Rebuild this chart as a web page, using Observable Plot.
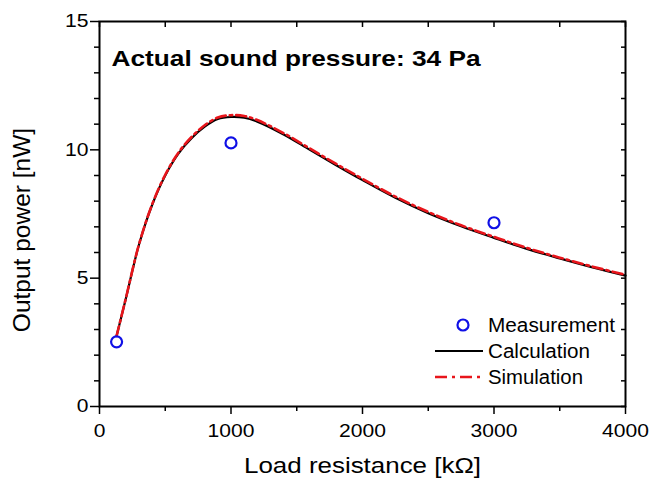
<!DOCTYPE html>
<html>
<head>
<meta charset="utf-8">
<script src="https://cdn.jsdelivr.net/npm/d3@7"></script>
<script src="https://cdn.jsdelivr.net/npm/@observablehq/plot@0.6"></script>
<style>
  html, body { margin: 0; padding: 0; background: #fff; }
  #wrap { position: relative; width: 652px; height: 484px; font-family: "Liberation Sans", Arial, sans-serif; }
  #legend { position: absolute; left: 0; top: 0; pointer-events: none; }
</style>
</head>
<body>
<div id="wrap"></div>
<script>
// Load resistance [kΩ]
const resistance = [130, 200, 300, 400, 500, 600, 700, 800, 900, 1000, 1100, 1200, 1400, 1600, 1800, 2000, 2250, 2500, 2750, 3000, 3250, 3500, 3750, 4000];
// Output power [nW] — calculation
const calcPower = [2.75, 4.2, 6.3, 7.85, 9.0, 9.85, 10.45, 10.9, 11.2, 11.28, 11.25, 11.1, 10.6, 10.0, 9.4, 8.82, 8.13, 7.53, 7.02, 6.57, 6.14, 5.77, 5.42, 5.1];
// Output power [nW] — simulation
const simPower = [2.75, 4.21, 6.31, 7.87, 9.03, 9.89, 10.5, 10.96, 11.26, 11.35, 11.32, 11.16, 10.65, 10.05, 9.45, 8.87, 8.18, 7.58, 7.06, 6.61, 6.18, 5.8, 5.45, 5.13];
// Measurements
const measResistance = [130, 1000, 3000];
const measPower = [2.52, 10.27, 7.16];

const xTicks = [0, 1000, 2000, 3000, 4000];
const xMinor = [500, 1500, 2500, 3500];
const yTicks = [0, 5, 10, 15];
const yMinor = [1, 2, 3, 4, 6, 7, 8, 9, 11, 12, 13, 14];
const allY = d3.range(0, 16);
const allX = d3.range(0, 4001, 500);

const titleText = "Actual sound pressure: 34 Pa";
const xLabel = "Load resistance [kΩ]";
const yLabel = "Output power [nW]";
const legendItems = ["Measurement", "Calculation", "Simulation"];

const calc = resistance.map((r, i) => ({r, p: calcPower[i]}));
const sim = resistance.map((r, i) => ({r, p: simPower[i]}));
const meas = measResistance.map((r, i) => ({r, p: measPower[i]}));

const RED = "#e8151b";
const BLUE = "#1010e6";
const FONT = "'Liberation Sans', Arial, sans-serif";

const chart = Plot.plot({
  width: 652,
  height: 484,
  marginLeft: 99,
  marginRight: 27,
  marginTop: 21,
  marginBottom: 78,
  style: {fontFamily: FONT, background: "#fff", color: "#000"},
  x: {domain: [0, 4000]},
  y: {domain: [0, 15]},
  marks: [
    // minor ticks
    Plot.axisY({ticks: yMinor, tickSize: 5, text: null, label: null, strokeWidth: 1.5}),
    Plot.axisX({ticks: xMinor, tickSize: 5, text: null, label: null, strokeWidth: 1.5}),
    // major ticks and labels
    Plot.axisY({ticks: yTicks, tickSize: 9, tickPadding: 2, fontSize: 18.5, strokeWidth: 1.5,
      tickFormat: "d", label: null}),
    Plot.axisX({ticks: xTicks, tickSize: 8, tickPadding: 9, fontSize: 18.5, strokeWidth: 1.5,
      tickFormat: "d", label: null}),
    // inward ticks on the top and right
    Plot.axisY({anchor: "right", ticks: allY, tickSize: 5, dx: -5, text: null, label: null, strokeWidth: 1.5}),
    Plot.axisX({anchor: "top", ticks: allX, tickSize: 5, dy: 5, text: null, label: null, strokeWidth: 1.5}),
    Plot.frame({stroke: "#000", strokeWidth: 2}),
    Plot.line(calc, {x: "r", y: "p", stroke: "#000", strokeWidth: 2.2, curve: "catmull-rom"}),
    Plot.line(sim, {x: "r", y: "p", stroke: RED, strokeWidth: 2.6, strokeDasharray: "10,4,2.5,4", curve: "catmull-rom"}),
    Plot.dot(meas, {x: "r", y: "p", r: 5.5, stroke: BLUE, strokeWidth: 2.2, fill: "none"}),
    // title
    Plot.text([titleText], {frameAnchor: "top-left", dx: 12, dy: 38, text: d => d, textAnchor: "start",
      lineAnchor: "middle", fontSize: 21.5, fontWeight: "bold", fill: "#000", className: "stretch-title"}),
    // axis labels
    Plot.text([xLabel], {frameAnchor: "bottom", dy: 60, text: d => d, lineAnchor: "middle",
      fontSize: 21.5, fill: "#000", className: "stretch-xlabel"}),
    Plot.text([yLabel], {frameAnchor: "left", dx: -77.5, dy: 16, rotate: -90, text: d => d,
      lineAnchor: "middle", textAnchor: "middle", fontSize: 24.5, fill: "#000"})
  ]
});

const wrap = document.getElementById("wrap");
wrap.appendChild(chart);

function stretchTo(sel, target) {
  sel.each(function() {
    this.setAttribute("textLength", target);
    this.setAttribute("lengthAdjust", "spacingAndGlyphs");
  });
}
function stretchBy(sel, k) {
  sel.each(function() {
    const w = this.getComputedTextLength();
    this.setAttribute("textLength", (w * k).toFixed(1));
    this.setAttribute("lengthAdjust", "spacingAndGlyphs");
  });
}
const c = d3.select(chart);
stretchTo(c.selectAll(".stretch-title text"), 369);
stretchTo(c.selectAll(".stretch-xlabel text"), 237);
stretchBy(c.selectAll("[aria-label='x-axis tick label'] text, [aria-label='y-axis tick label'] text"), 1.14);

// Legend overlay
const leg = d3.select(wrap).append("svg").attr("id", "legend")
  .attr("width", 652).attr("height", 484);
const g = leg.append("g").attr("font-family", FONT).attr("font-size", 20);
const rows = [325, 351, 377];
const legWidths = [127, 102, 95];
g.append("circle").attr("cx", 463).attr("cy", rows[0]).attr("r", 5.5)
  .attr("fill", "none").attr("stroke", BLUE).attr("stroke-width", 2.2);
g.append("line").attr("x1", 435).attr("x2", 483).attr("y1", rows[1]).attr("y2", rows[1])
  .attr("stroke", "#000").attr("stroke-width", 2.2);
g.append("line").attr("x1", 435).attr("x2", 483).attr("y1", rows[2]).attr("y2", rows[2])
  .attr("stroke", RED).attr("stroke-width", 2.6).attr("stroke-dasharray", "12,5,3,5");
legendItems.forEach((t, i) => {
  g.append("text").attr("x", 488).attr("y", rows[i]).attr("dy", "0.35em")
    .attr("textLength", legWidths[i]).attr("lengthAdjust", "spacingAndGlyphs").text(t);
});
</script>
</body>
</html>
